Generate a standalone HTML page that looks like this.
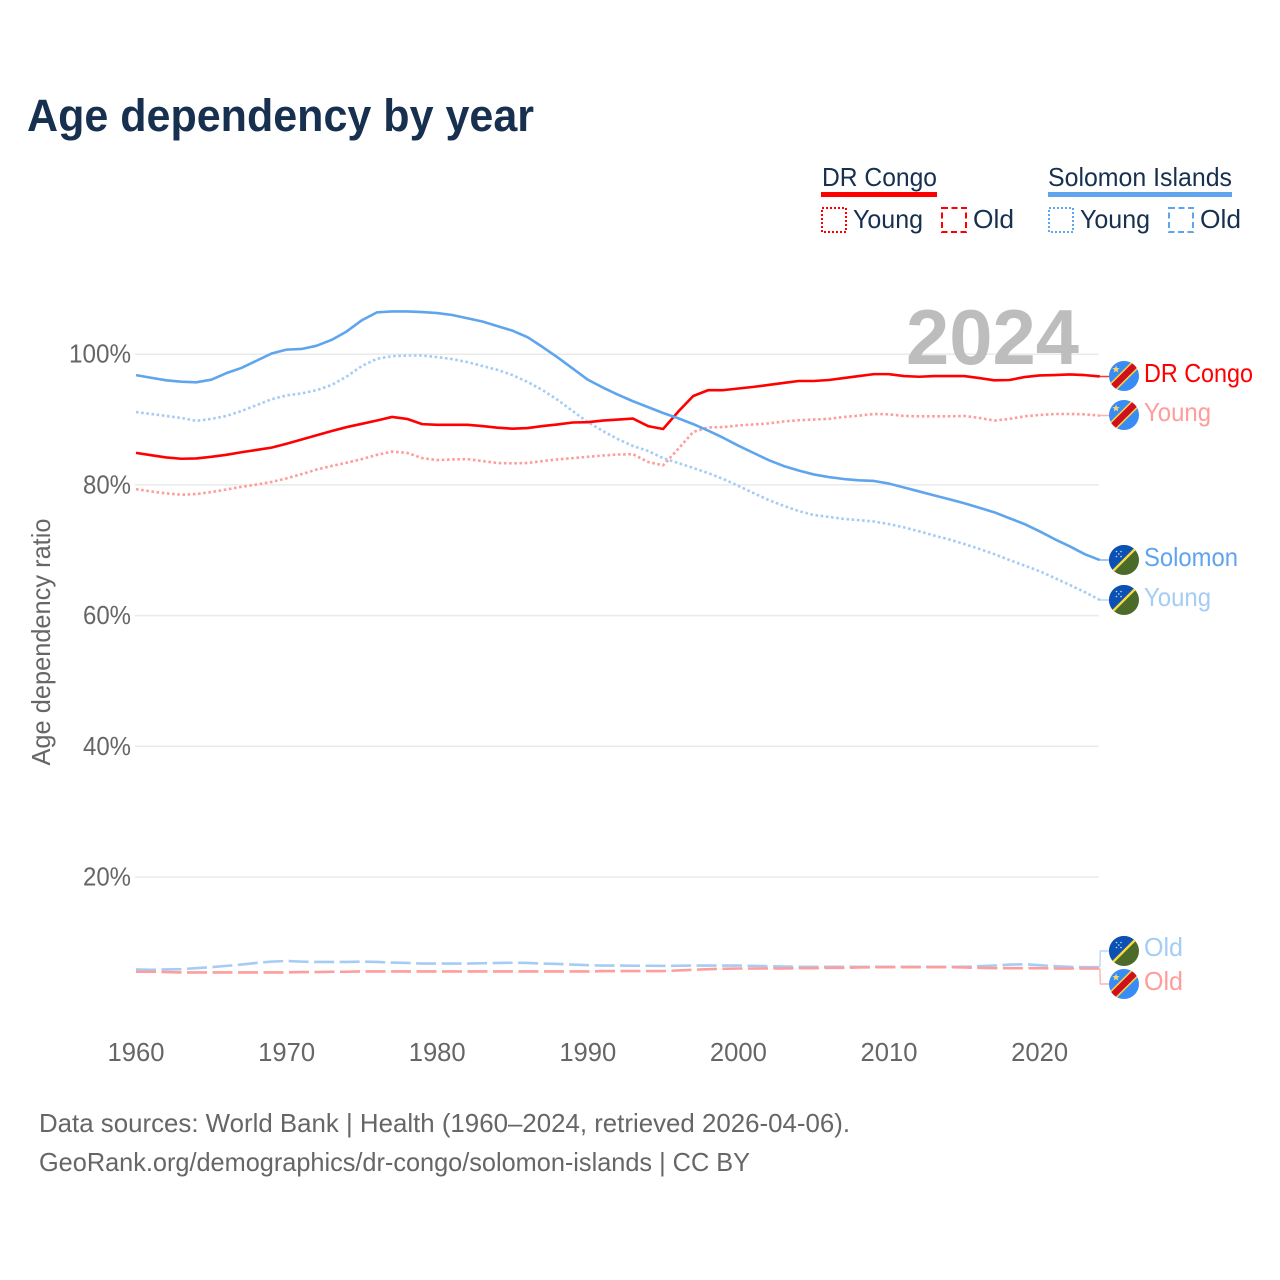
<!DOCTYPE html>
<html lang="en">
<head>
<meta charset="utf-8">
<title>Age dependency by year</title>
<style>
html,body{margin:0;padding:0;background:#fff;width:1280px;height:1280px;overflow:hidden}
svg{display:block}
text{font-family:"Liberation Sans",sans-serif}
</style>
</head>
<body>
<svg id="chart" xmlns="http://www.w3.org/2000/svg" width="1280" height="1280" viewBox="0 0 1280 1280">
  <defs>
    <clipPath id="flag-clip"><circle cx="0" cy="0" r="15"/></clipPath>
    <g id="flag-cd" clip-path="url(#flag-clip)">
      <rect x="-16" y="-16" width="32" height="32" fill="#3a8cf5"/>
      <line x1="-17" y1="17" x2="17" y2="-17" stroke="#fbd83c" stroke-width="9.5"/>
      <line x1="-17" y1="17" x2="17" y2="-17" stroke="#ce1021" stroke-width="6.5"/>
      <polygon points="-8,-10.5 -7,-8 -4.4,-7.8 -6.4,-6.1 -5.8,-3.6 -8,-5 -10.2,-3.6 -9.6,-6.1 -11.6,-7.8 -9,-8" fill="#f5d76a"/>
    </g>
    <g id="flag-sb" clip-path="url(#flag-clip)">
      <rect x="-16" y="-16" width="32" height="32" fill="#4b6b2b"/>
      <polygon points="-16,16 16,-16 -16,-16" fill="#0b50b5"/>
      <line x1="-16" y1="16" x2="16" y2="-16" stroke="#fbd83c" stroke-width="2.4"/>
      <g fill="#c9d8ef">
        <circle cx="-7.5" cy="-8.5" r="0.8"/><circle cx="-3" cy="-8.5" r="0.8"/><circle cx="-5.2" cy="-6" r="0.8"/><circle cx="-7.5" cy="-3.5" r="0.8"/><circle cx="-3" cy="-3.5" r="0.8"/>
      </g>
    </g>
  </defs>

  <text x="27" y="131" font-size="45" font-weight="700" fill="#17304f" textLength="507" lengthAdjust="spacingAndGlyphs">Age dependency by year</text>

  <g id="legend" fill="#17304f" font-size="26">
    <text x="822" y="186" textLength="115" lengthAdjust="spacingAndGlyphs">DR Congo</text>
    <rect x="821" y="192" width="116" height="5" fill="#ff0000"/>
    <rect x="822" y="208" width="24" height="24" fill="none" stroke="#ff0000" stroke-width="2" stroke-dasharray="2 2"/>
    <text x="853" y="228" textLength="70" lengthAdjust="spacingAndGlyphs">Young</text>
    <rect x="942" y="208" width="24" height="24" fill="none" stroke="#ff0000" stroke-width="2" stroke-dasharray="6 3.5"/>
    <text x="973" y="228" textLength="41" lengthAdjust="spacingAndGlyphs">Old</text>

    <text x="1048" y="186" textLength="184" lengthAdjust="spacingAndGlyphs">Solomon Islands</text>
    <rect x="1048" y="192" width="184" height="5" fill="#5fa5ee"/>
    <rect x="1049" y="208" width="24" height="24" fill="none" stroke="#5fa5ee" stroke-width="2" stroke-dasharray="2 2"/>
    <text x="1080" y="228" textLength="70" lengthAdjust="spacingAndGlyphs">Young</text>
    <rect x="1169" y="208" width="24" height="24" fill="none" stroke="#5fa5ee" stroke-width="2" stroke-dasharray="6 3.5"/>
    <text x="1200" y="228" textLength="41" lengthAdjust="spacingAndGlyphs">Old</text>
  </g>

  <g id="grid"></g>
  <text x="906" y="364" font-size="78" font-weight="700" fill="#bdbdbd" textLength="173" lengthAdjust="spacingAndGlyphs">2024</text>
  <g id="series"></g>
  <g id="y-ticks" font-size="25.6" fill="#666666" text-anchor="end"></g>
  <g id="x-ticks" font-size="25.6" fill="#666666" text-anchor="middle"></g>
  <text transform="translate(50,642) rotate(-90)" text-anchor="middle" font-size="25.6" fill="#666666" textLength="247" lengthAdjust="spacingAndGlyphs">Age dependency ratio</text>

  <g id="end-markers">
    <use href="#flag-cd" x="1124" y="376"/>
    <use href="#flag-cd" x="1124" y="415"/>
    <use href="#flag-sb" x="1124" y="560"/>
    <use href="#flag-sb" x="1124" y="600"/>
    <use href="#flag-sb" x="1124" y="951"/>
    <use href="#flag-cd" x="1124" y="984"/>
  </g>
  <g font-size="26">
    <text x="1144" y="382" fill="#ff0000" textLength="109" lengthAdjust="spacingAndGlyphs">DR Congo</text>
    <text x="1144" y="421" fill="#ff9c9c" textLength="67" lengthAdjust="spacingAndGlyphs">Young</text>
    <text x="1144" y="566" fill="#5fa5ee" textLength="94" lengthAdjust="spacingAndGlyphs">Solomon</text>
    <text x="1144" y="606" fill="#a5ccf5" textLength="67" lengthAdjust="spacingAndGlyphs">Young</text>
    <text x="1144" y="956" fill="#a5ccf5" textLength="39" lengthAdjust="spacingAndGlyphs">Old</text>
    <text x="1144" y="990" fill="#ff9c9c" textLength="39" lengthAdjust="spacingAndGlyphs">Old</text>
  </g>

  <g font-size="26" fill="#666666">
    <text x="39" y="1132" textLength="811" lengthAdjust="spacingAndGlyphs">Data sources: World Bank | Health (1960–2024, retrieved 2026-04-06).</text>
    <text x="39" y="1171" textLength="711" lengthAdjust="spacingAndGlyphs">GeoRank.org/demographics/dr-congo/solomon-islands | CC BY</text>
  </g>

  <script>
    var startYear = 1960;
    var yTickValues = [20, 40, 60, 80, 100];
    var xTickValues = [1960, 1970, 1980, 1990, 2000, 2010, 2020];

    var solomonTotal = [96.8,96.4,96.0,95.8,95.7,96.1,97.1,97.9,99.0,100.1,100.7,100.8,101.3,102.2,103.5,105.2,106.4,106.55,106.55,106.45,106.3,106.0,105.5,105.0,104.3,103.6,102.6,101.1,99.5,97.8,96.1,94.9,93.8,92.8,91.9,91.0,90.2,89.3,88.3,87.2,86.0,84.9,83.8,82.9,82.2,81.6,81.2,80.9,80.7,80.6,80.2,79.6,79.0,78.4,77.8,77.2,76.5,75.8,74.9,74.0,72.9,71.7,70.6,69.4,68.5];
    var solomonYoung = [91.15,90.85,90.55,90.25,89.8,90.1,90.55,91.3,92.2,93.1,93.7,94.0,94.5,95.3,96.6,98.2,99.3,99.7,99.8,99.8,99.55,99.25,98.8,98.2,97.6,96.8,95.75,94.5,93.0,91.3,89.6,88.25,87.0,85.95,85.2,84.1,83.35,82.6,81.8,80.9,79.85,78.75,77.7,76.8,76.0,75.4,75.1,74.8,74.6,74.4,74.0,73.5,72.9,72.25,71.65,70.95,70.2,69.4,68.5,67.65,66.8,65.75,64.7,63.6,62.4];
    var solomonOld = [5.85,5.8,5.85,5.9,6.05,6.2,6.4,6.6,6.85,7.05,7.15,7.05,7.0,7.0,7.0,7.05,7.0,6.9,6.85,6.75,6.75,6.75,6.75,6.8,6.85,6.88,6.85,6.75,6.7,6.6,6.5,6.45,6.45,6.42,6.42,6.4,6.42,6.45,6.45,6.45,6.45,6.4,6.35,6.3,6.25,6.25,6.25,6.25,6.25,6.25,6.25,6.25,6.25,6.25,6.25,6.25,6.35,6.45,6.6,6.65,6.5,6.35,6.25,6.2,6.2];
    var congoTotal = [84.9,84.55,84.2,84.0,84.05,84.3,84.6,85.0,85.35,85.7,86.3,86.95,87.6,88.25,88.85,89.35,89.85,90.4,90.1,89.3,89.2,89.2,89.2,89.0,88.75,88.6,88.7,89.0,89.25,89.55,89.6,89.85,90.0,90.15,89.0,88.55,91.2,93.6,94.5,94.5,94.75,95.0,95.3,95.6,95.9,95.9,96.05,96.35,96.65,96.95,96.95,96.65,96.55,96.65,96.65,96.65,96.35,96.0,96.05,96.5,96.75,96.8,96.9,96.8,96.6];
    var congoYoung = [79.35,79.0,78.7,78.5,78.6,78.9,79.3,79.7,80.05,80.45,81.0,81.65,82.35,82.9,83.4,83.95,84.6,85.1,84.9,84.1,83.8,83.9,83.95,83.65,83.35,83.3,83.35,83.65,83.9,84.1,84.3,84.5,84.65,84.7,83.5,83.0,85.5,88.1,88.8,88.85,89.1,89.25,89.4,89.7,89.9,90.0,90.1,90.4,90.6,90.85,90.8,90.55,90.5,90.5,90.5,90.55,90.25,89.85,90.1,90.5,90.7,90.85,90.85,90.8,90.6];
    var congoOld = [5.5,5.5,5.45,5.4,5.4,5.4,5.4,5.4,5.4,5.4,5.4,5.45,5.45,5.5,5.5,5.55,5.55,5.55,5.55,5.55,5.55,5.55,5.55,5.55,5.55,5.55,5.55,5.55,5.55,5.55,5.55,5.6,5.6,5.6,5.6,5.6,5.7,5.8,5.9,5.95,6.0,6.0,6.0,6.0,6.05,6.05,6.1,6.1,6.15,6.2,6.2,6.2,6.2,6.2,6.2,6.15,6.1,6.05,6.05,6.05,6.05,6.0,6.0,6.0,6.0];

    var svgNS = 'http://www.w3.org/2000/svg';
    function xScale(year) { return 136 + (year - 1960) * 15.06; }
    function yScale(value) { return 1007.7 - value * 6.535; }

    function makeEl(tag, parent) {
      var el = document.createElementNS(svgNS, tag);
      parent.appendChild(el);
      return el;
    }

    var gridGroup = document.getElementById('grid');
    var yTickGroup = document.getElementById('y-ticks');
    var xTickGroup = document.getElementById('x-ticks');
    var seriesGroup = document.getElementById('series');

    yTickValues.forEach(function (v) {
      var line = makeEl('line', gridGroup);
      
      
      line.setAttribute('x1', xScale(1960) - 1);
      line.setAttribute('x2', xScale(2024) - 1);
      line.setAttribute('y1', yScale(v));
      line.setAttribute('y2', yScale(v));
      line.setAttribute('stroke', '#eaeaea');
      line.setAttribute('stroke-width', '1.5');
      var label = makeEl('text', yTickGroup);
      
      
      label.setAttribute('x', 131);
      label.setAttribute('y', yScale(v) + 8.5);
      label.setAttribute('textLength', String(v).length === 3 ? 62 : 48);
      label.setAttribute('lengthAdjust', 'spacingAndGlyphs');
      label.textContent = v + '%';
    });

    xTickValues.forEach(function (t) {
      var label = makeEl('text', xTickGroup);
      
      
      label.setAttribute('x', xScale(t));
      label.setAttribute('y', 1061);
      label.textContent = t;
    });

    function drawSeries(values, name, color, dash, labelY) {
      var pts = values.map(function (v, i) {
        return xScale(startYear + i).toFixed(2) + ',' + yScale(v).toFixed(2);
      });
      var lastX = xScale(startYear + values.length - 1);
      var lastY = yScale(values[values.length - 1]);
      var line = makeEl('polyline', seriesGroup);
      
      
      line.setAttribute('points', pts.join(' '));
      line.setAttribute('fill', 'none');
      line.setAttribute('stroke', color);
      line.setAttribute('stroke-width', '2.6');
      line.setAttribute('stroke-linejoin', 'round');
      if (dash) line.setAttribute('stroke-dasharray', dash);
      var leader = makeEl('polyline', seriesGroup);
      
      
      leader.setAttribute('points', lastX + ',' + lastY + ' ' + (lastX + 0.5) + ',' + labelY + ' 1110,' + labelY);
      leader.setAttribute('fill', 'none');
      leader.setAttribute('stroke', color);
      leader.setAttribute('stroke-width', '1.4');
      leader.setAttribute('stroke-opacity', '0.8');
    }

    drawSeries(solomonOld, 'solomon-old', '#a5ccf5', '20 5.5', 951);
    drawSeries(congoOld, 'dr-congo-old', '#ff9c9c', '20 5.5', 984);
    drawSeries(congoYoung, 'dr-congo-young', '#ff9c9c', '2.6 2.6', 415.5);
    drawSeries(solomonYoung, 'solomon-young', '#a5ccf5', '2.6 2.6', 600);
    drawSeries(congoTotal, 'dr-congo-total', '#ff0000', null, 376.5);
    drawSeries(solomonTotal, 'solomon-total', '#5fa5ee', null, 560);
  </script>
</svg>
</body>
</html>
